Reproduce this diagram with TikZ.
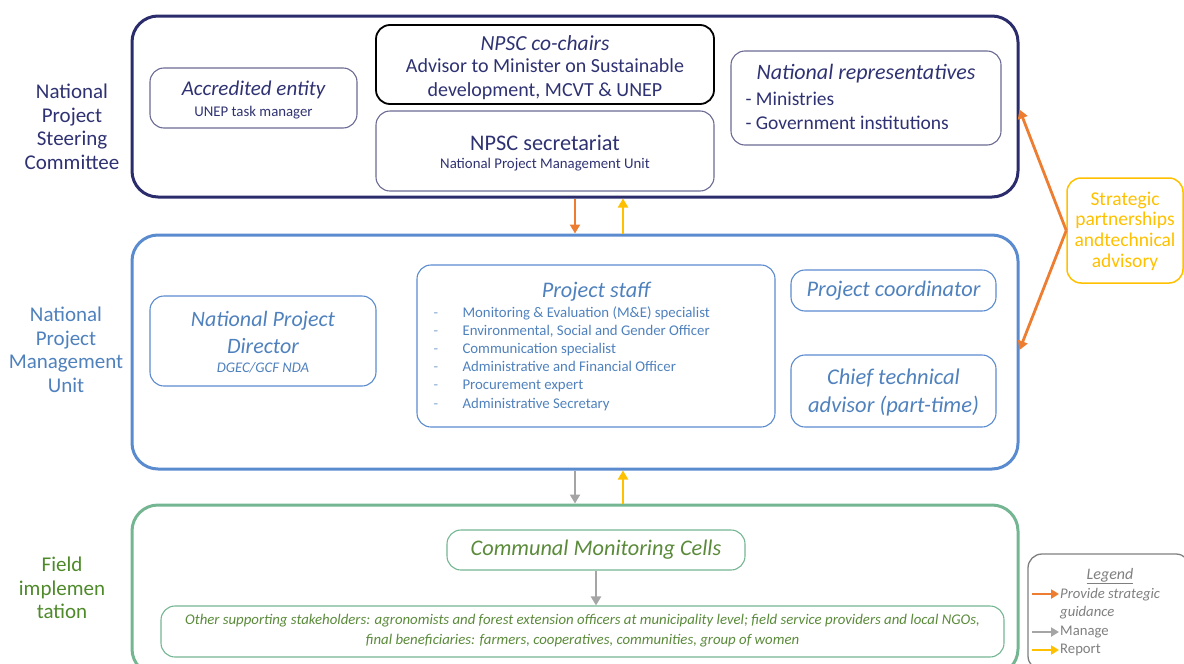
\documentclass[tikz,border=0pt]{standalone}
\usepackage{fontspec}
\setmainfont{Carlito}
\usetikzlibrary{arrows.meta}
\definecolor{navy}{HTML}{2B2C6C}
\definecolor{navytxt}{HTML}{2F3272}
\definecolor{boxnavy}{HTML}{6A6A94}
\definecolor{mblue}{HTML}{5A8BCF}
\definecolor{btxt}{HTML}{4F81BD}
\definecolor{fgreen}{HTML}{74B692}
\definecolor{gtxt}{HTML}{5A8A3A}
\definecolor{flabel}{HTML}{4E8A2A}
\definecolor{aorange}{HTML}{ED7D31}
\definecolor{ayellow}{HTML}{FFC000}
\definecolor{agrey}{HTML}{A5A5A5}
\definecolor{lgrey}{HTML}{7F7F7F}
\newcommand\fsz[2]{\fontsize{#1}{#2}\selectfont}
\begin{document}
\begin{tikzpicture}[x=1pt,y=-1pt,
  outerbox/.style={draw, rounded corners=26pt, line width=3pt, inner sep=0pt},
  innerbox/.style={draw, rounded corners=14pt, line width=1.1pt, inner sep=0pt},
  flow/.style={line width=2.8pt, -{Triangle[length=9pt,width=10pt]}},
  keyarrow/.style={line width=2.8pt, -{Triangle[length=8pt,width=9pt]}},
  sidelabel/.style={align=center, font=\fsz{21}{23.5}},
  big/.style={font=\fsz{20}{23.5}},
  bigit/.style={font=\fsz{22.3}{24}\itshape},
  small/.style={font=\fsz{14.8}{16}},
  item/.style={anchor=west, font=\fsz{14.8}{16}, text=btxt, text height=10.5pt, text depth=3.5pt},
  keytext/.style={anchor=west, font=\fsz{14.7}{17}, text=lgrey, inner sep=1pt, text height=10.5pt, text depth=3.5pt}
]
\useasboundingbox (0,0) rectangle (1184,664);

% ---------- National Project Steering Committee ----------
\node[sidelabel, text=navytxt] (lnpsc) at (72,127) {National\\Project\\Steering\\Committee};
\node[outerbox, draw=navy, minimum width=886pt, minimum height=181pt] (npsc) at (575,106.5) {};

\node[innerbox, draw=boxnavy, minimum width=207pt, minimum height=60pt] (ae) at (253.5,98) {};
\node[font=\fsz{21}{24}\itshape, text=navytxt] (aet) at (253.5,90) {Accredited entity};
\node[small, text=navytxt] (aes) at (253.5,113) {UNEP task manager};

\node[innerbox, draw=black, line width=1.8pt, minimum width=338pt, minimum height=79pt] (chairs) at (545,64.5) {};
\node[font=\fsz{21.5}{24}\itshape, text=navytxt] (chairst) at (545,43) {NPSC co-chairs};
\node[big, text=navytxt, align=center] (chairss) at (545,79) {Advisor to Minister on Sustainable\\development, MCVT \& UNEP};

\node[innerbox, draw=boxnavy, minimum width=338pt, minimum height=80pt] (secr) at (545,151) {};
\node[font=\fsz{22.3}{24}, text=navytxt] (secrt) at (545,143) {NPSC secretariat};
\node[small, text=navytxt] (secrs) at (545,165) {National Project Management Unit};

\node[innerbox, draw=boxnavy, minimum width=270pt, minimum height=94pt] (reps) at (866,98) {};
\node[font=\fsz{22}{24}\itshape, text=navytxt] (repst) at (866,74) {National representatives};
\node[font=\fsz{19.5}{23}, text=navytxt, anchor=west] (reps1) at (742,99) {- Ministries};
\node[font=\fsz{19.5}{23}, text=navytxt, anchor=west] (reps2) at (742,123) {- Government institutions};

% ---------- National Project Management Unit ----------
\node[sidelabel, text=btxt] (lnpmu) at (66,350) {National\\Project\\Management\\Unit};
\node[outerbox, draw=mblue, minimum width=886pt, minimum height=234pt] (npmu) at (575,352) {};

\node[innerbox, draw=mblue, minimum width=226pt, minimum height=90pt] (npd) at (263,341) {};
\node[font=\fsz{22}{27}\itshape, text=btxt, align=center] (npdt) at (263,332.5) {National Project\\Director};
\node[font=\fsz{14.7}{16}\itshape, text=btxt] (npds) at (263,368) {DGEC/GCF NDA};

\node[innerbox, draw=mblue, minimum width=358pt, minimum height=162pt] (staff) at (596,346) {};
\node[bigit, text=btxt] (stafft) at (596,292) {Project staff};
\foreach \y/\t [count=\i] in {314/{Monitoring \& Evaluation (M\&E) specialist},
    332/{Environmental, Social and Gender Officer},
    350/{Communication specialist},
    368/{Administrative and Financial Officer},
    386/{Procurement expert},
    405/{Administrative Secretary}} {
  \node[item, text=btxt!70] (dash\i) at (430,\y) {-};
  \node[item] (st\i) at (459,\y) {\t};
}

\node[innerbox, draw=mblue, minimum width=205pt, minimum height=41pt] (coord) at (893.5,290.5) {};
\node[bigit, text=btxt] (coordt) at (893.5,290.5) {Project coordinator};

\node[innerbox, draw=mblue, minimum width=205pt, minimum height=72pt] (cta) at (893.5,391) {};
\node[font=\fsz{22.5}{28}\itshape, text=btxt, align=center] (ctat) at (893.5,392) {Chief technical\\advisor (part-time)};

% ---------- Field implementation ----------
\node[sidelabel, text=flabel] (lfield) at (62,588) {Field\\implemen\\tation};
\node[outerbox, draw=fgreen, minimum width=886pt, minimum height=170pt] (field) at (575,590) {};

\node[innerbox, draw=fgreen, minimum width=298pt, minimum height=40pt] (cmc) at (596,550) {};
\node[bigit, text=gtxt] (cmct) at (596,550) {Communal Monitoring Cells};

\node[innerbox, draw=fgreen, minimum width=843pt, minimum height=51pt] (other) at (582.5,631.5) {};
\node[font=\fsz{14.8}{20}\itshape, text=gtxt, align=center] (othert) at (582.5,631) {Other supporting stakeholders: agronomists and forest extension officers at municipality level; field service providers and local NGOs,\\final beneficiaries: farmers, cooperatives, communities, group of women};

% ---------- Strategic partnerships ----------
\node[draw=ayellow, line width=1.5pt, rounded corners=14pt, minimum width=116pt, minimum height=105pt] (strat) at (1125,230.5) {};
\node[font=\fsz{19.5}{20.7}, text=ayellow, align=center] (stratt) at (1125,231) {Strategic\\partnerships\\andtechnical\\advisory};

% ---------- Legend ----------
\node[draw=lgrey, line width=1.3pt, rounded corners=14pt, minimum width=162pt, minimum height=116pt] (legend) at (1109,612) {};
\node[font=\fsz{16}{17}\itshape, text=lgrey] (legt) at (1110,576) {\underline{Legend}};
\coordinate (k1a) at (1032,594); \coordinate (k1b) at (1059,594);
\coordinate (k2a) at (1032,632); \coordinate (k2b) at (1059,632);
\coordinate (k3a) at (1032,650); \coordinate (k3b) at (1059,650);
\draw[keyarrow, aorange] (k1a) -- (k1b);
\draw[keyarrow, agrey] (k2a) -- (k2b);
\draw[keyarrow, ayellow] (k3a) -- (k3b);
\node[keytext, font=\fsz{14.7}{17}\itshape] (leg1) at (1059,595) {Provide strategic};
\node[keytext, font=\fsz{14.7}{17}\itshape] (leg1b) at (1059,613) {guidance};
\node[keytext] (leg2) at (1059,632) {Manage};
\node[keytext] (leg3) at (1059,650) {Report};

% ---------- Connectors ----------
\coordinate (down) at (575,0);
\coordinate (up) at (623,0);
\draw[flow, aorange] (npsc.south -| down) -- (npmu.north -| down);
\draw[flow, ayellow] (npmu.north -| up) -- (npsc.south -| up);
\draw[flow, agrey] (npmu.south -| down) -- (field.north -| down);
\draw[flow, ayellow] (field.north -| up) -- (npmu.south -| up);
\draw[flow, agrey] (cmc.south) -- (cmc.south |- other.north);
\draw[flow, aorange] (strat.west) -- ([yshift=-3pt]npsc.east);
\draw[flow, aorange] (strat.west) -- ([yshift=2pt]npmu.east);
\end{tikzpicture}
\end{document}
